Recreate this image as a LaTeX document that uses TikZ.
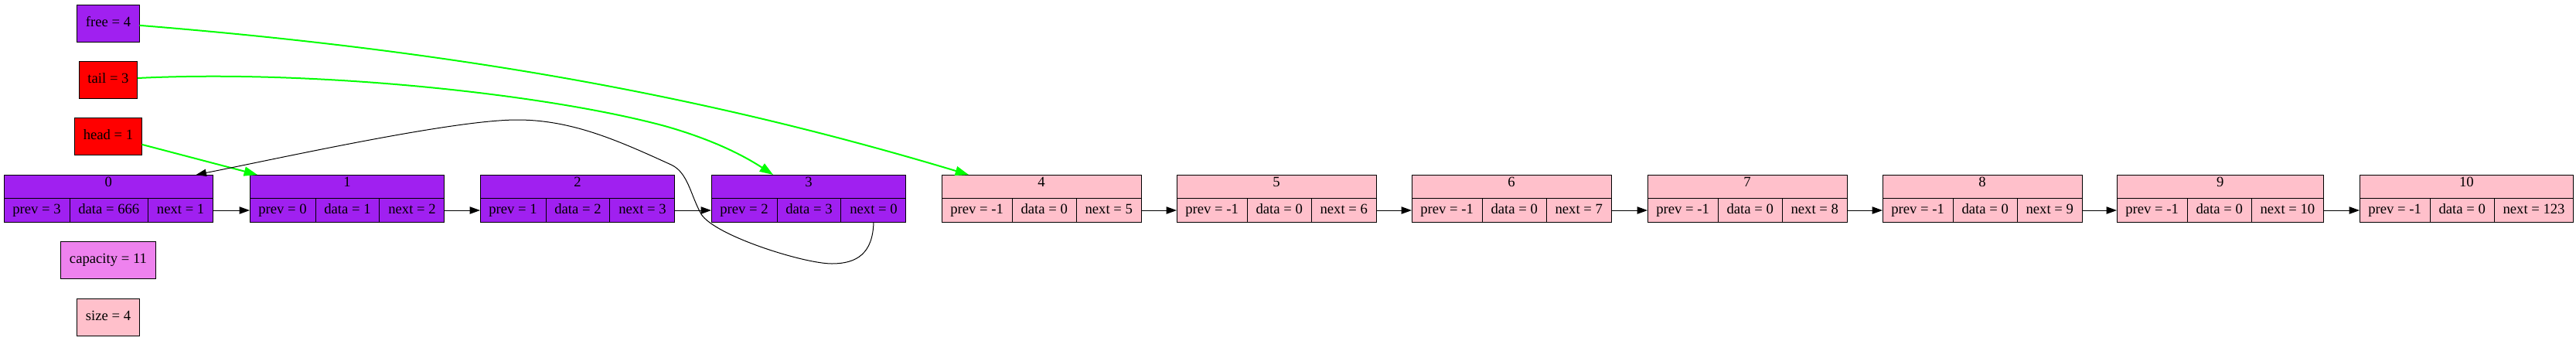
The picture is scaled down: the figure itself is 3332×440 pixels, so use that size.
\documentclass[tikz,border=0pt]{standalone}
\usepackage{fontspec}
\setmainfont{Liberation Serif}
\usetikzlibrary{arrows.meta}
\usetikzlibrary{calc, fit, positioning}
\definecolor{gvpurple}{HTML}{A020F0}
\definecolor{gvred}{HTML}{FF0000}
\definecolor{gvviolet}{HTML}{EE82EE}
\definecolor{gvpink}{HTML}{FFC0CB}
\definecolor{gvgreen}{HTML}{00FF00}
\tikzset{
    field/.style={
        draw=black, line width=0.75pt, outer sep=0pt,
        inner xsep=8.5pt, inner ysep=0pt, minimum height=23pt,
        text height=10pt, text depth=3.5pt,
        font=\fontsize{14pt}{16pt}\selectfont
    },
    var/.style={
        draw=black, line width=0.75pt, outer sep=0pt,
        inner xsep=8.5pt, minimum height=36pt, minimum width=54pt,
        text height=10pt, text depth=3.5pt,
        font=\fontsize{14pt}{16pt}\selectfont
    },
    link/.style={-{Triangle[length=10pt, width=7pt]}, line width=0.75pt, black},
    ptr/.style={-{Triangle[length=13pt, width=9pt]}, line width=1.5pt, gvgreen}
}

\begin{document}
\begin{tikzpicture}[x=0.75pt, y=-0.75pt]
    \def\rowh{30.7}
    % name, corner, title, prev, data, next, colour
    \def\record#1#2#3#4#5#6#7{
        \node[field, fill=#7, anchor=north west] (#1p) at ($(#2)+(0,\rowh)$) {prev = #4};
        \node[field, fill=#7, right=0pt of #1p] (#1d) {data = #5};
        \node[field, fill=#7, right=0pt of #1d] (#1n) {next = #6};
        \node[field, fill=#7, fit=(#2)(#1n.north east), inner sep=0pt] (#1h) {#3};
    }
    \useasboundingbox (0,0) rectangle (3332,440);
    \coordinate (c0) at (5, 226);
    \coordinate (c1) at (323, 226);
    \coordinate (c2) at (621, 226);
    \coordinate (c3) at (920, 226);
    \coordinate (c4) at (1218, 226);
    \coordinate (c5) at (1522, 226);
    \coordinate (c6) at (1826, 226);
    \coordinate (c7) at (2131, 226);
    \coordinate (c8) at (2435, 226);
    \coordinate (c9) at (2738, 226);
    \coordinate (c10) at (3052, 226);
    \record{n0}{c0}{0}{3}{666}{1}{gvpurple}
    \record{n1}{c1}{1}{0}{1}{2}{gvpurple}
    \record{n2}{c2}{2}{1}{2}{3}{gvpurple}
    \record{n3}{c3}{3}{2}{3}{0}{gvpurple}
    \record{n4}{c4}{4}{-1}{0}{5}{gvpink}
    \record{n5}{c5}{5}{-1}{0}{6}{gvpink}
    \record{n6}{c6}{6}{-1}{0}{7}{gvpink}
    \record{n7}{c7}{7}{-1}{0}{8}{gvpink}
    \record{n8}{c8}{8}{-1}{0}{9}{gvpink}
    \record{n9}{c9}{9}{-1}{0}{10}{gvpink}
    \record{n10}{c10}{10}{-1}{0}{123}{gvpink}
    \node[var, fill=gvpurple] (free) at (140, 30) {free = 4};
    \node[var, fill=gvred] (tail) at (140, 103) {tail = 3};
    \node[var, fill=gvred] (head) at (140, 176) {head = 1};
    \node[var, fill=gvviolet] (cap) at (140, 336.5) {capacity = 11};
    \node[var, fill=gvpink] (size) at (140, 410) {size = 4};
    \draw[link] (n0n.east) -- (n1p.west);
    \draw[link] (n1n.east) -- (n2p.west);
    \draw[link] (n2n.east) -- (n3p.west);
    \draw[link] (n4n.east) -- (n5p.west);
    \draw[link] (n5n.east) -- (n6p.west);
    \draw[link] (n6n.east) -- (n7p.west);
    \draw[link] (n7n.east) -- (n8p.west);
    \draw[link] (n8n.east) -- (n9p.west);
    \draw[link] (n9n.east) -- (n10p.west);
    \draw[ptr] (free.-4) .. controls (580, 65) and (903, 121) .. ($(n4h.north west)+(35,0)$);
    \draw[ptr] (tail.3) .. controls (400, 90) and (700, 120) .. (860, 163)
        .. controls (920, 180) and (960, 200) .. ($(n3h.north west)+(80,0)$);
    \draw[ptr] (head.-14) -- ($(n1h.north west)+(10,0)$);
    \draw[link] (n3n.south) .. controls (1129, 328) and (1108, 341) .. (1076, 341)
        .. controls (1040, 341) and (925, 305) .. (907, 277)
        .. controls (893, 252) and (890, 223) .. (868, 213)
        .. controls (800, 182) and (740, 155) .. (669, 155)
        .. controls (585, 155) and (360, 205) .. ($(n0h.north east)+(-22,0)$);
\end{tikzpicture}
\end{document}
